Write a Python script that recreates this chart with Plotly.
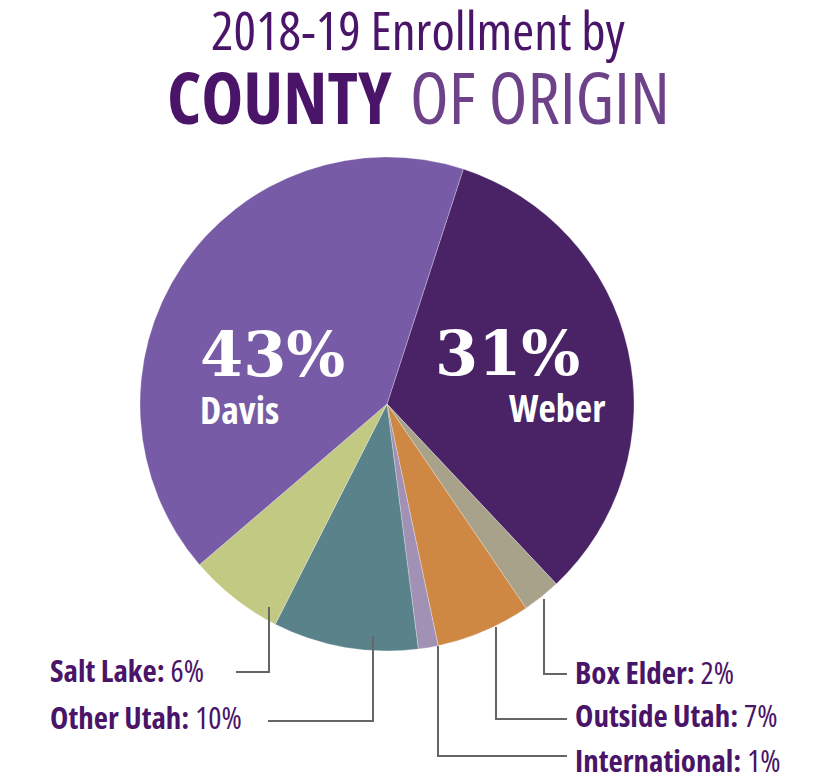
import plotly.graph_objects as go

# ---- data ----
counties = ["Weber", "Box Elder", "Outside Utah", "International", "Other Utah", "Salt Lake", "Davis"]
shown_pct = [31, 2, 7, 1, 10, 6, 43]                 # percentages printed on the chart
slice_share = [33.0, 2.5, 6.2, 1.3, 9.5, 6.25, 41.3]
colors = ["#4A2366", "#A8A28A", "#CE8843", "#A191B5", "#5A828A", "#C2C982", "#775BA6"]

W, H = 822, 784
OFF = 8  # page body margin in the browser
CX, CY, R = 387, 404, 247  # target position in window pixels


def px(x):
    return (x - OFF) / W


def py(y):
    return 1 - (y - OFF) / H


fig = go.Figure(go.Pie(
    labels=counties,
    values=slice_share,
    sort=False,
    direction="clockwise",
    rotation=18,
    marker=dict(colors=colors, line=dict(width=0.6, color="rgba(255,255,255,0.45)")),
    textinfo="none",
    hoverinfo="label",
    showlegend=False,
    domain=dict(x=[px(CX - R), px(CX + R)], y=[py(CY + R), py(CY - R)]),
))

SANS = "Open Sans"
DARK = "#4A1468"
LIGHT = "#6E4289"
LINE = "#666666"


def cond(s, extra=""):
    return "<span style='font-stretch:condensed%s'>%s</span>" % (extra, s)


ann = []
# Title
ann.append(dict(x=px(418), y=py(30), xref="paper", yref="paper", xanchor="center", yanchor="middle",
                text=cond("2018-19 Enrollment by"), showarrow=False,
                font=dict(family=SANS, size=53, color=DARK)))
ann.append(dict(x=px(418), y=py(96), xref="paper", yref="paper", xanchor="center", yanchor="middle",
                text=cond("<b>COUNTY</b>") + " " + cond("OF ORIGIN", ";color:" + LIGHT), showarrow=False,
                font=dict(family=SANS, size=71, color=DARK)))

# Inside labels
idx_d = counties.index("Davis")
idx_w = counties.index("Weber")
ann.append(dict(x=px(198), y=py(354), xref="paper", yref="paper", xanchor="left", yanchor="middle",
                text="<b>%d%%</b>" % shown_pct[idx_d], showarrow=False,
                font=dict(family="DejaVu Serif", size=62, color="white")))
ann.append(dict(x=px(198), y=py(409), xref="paper", yref="paper", xanchor="left", yanchor="middle",
                text=cond("<b>%s</b>" % counties[idx_d]), showarrow=False,
                font=dict(family=SANS, size=38, color="white")))
ann.append(dict(x=px(582), y=py(353), xref="paper", yref="paper", xanchor="right", yanchor="middle",
                text="<b>%d%%</b>" % shown_pct[idx_w], showarrow=False,
                font=dict(family="DejaVu Serif", size=62, color="white")))
ann.append(dict(x=px(607), y=py(407), xref="paper", yref="paper", xanchor="right", yanchor="middle",
                text=cond("<b>%s</b>" % counties[idx_w]), showarrow=False,
                font=dict(family=SANS, size=38, color="white")))

# Outside labels: (county, text x, text y, leader path points)
outside = [
    ("Box Elder", 573, 672, [(544, 599), (544, 674), (567, 674)]),
    ("Outside Utah", 573, 715, [(496, 627), (496, 719), (567, 719)]),
    ("International", 573, 760, [(438, 646), (438, 756), (567, 756)]),
    ("Salt Lake", 48, 670, [(236, 672), (269, 672), (269, 607)]),
    ("Other Utah", 48, 717, [(268, 721), (373, 721), (373, 636)]),
]
shapes = []
for name, tx, ty, pts in outside:
    i = counties.index(name)
    ann.append(dict(x=px(tx), y=py(ty), xref="paper", yref="paper", xanchor="left", yanchor="middle",
                    text=cond("<b>%s:</b> %d%%" % (name, shown_pct[i])), showarrow=False,
                    font=dict(family=SANS, size=31, color=DARK)))
    path = "M " + " L ".join("%f,%f" % (px(x), py(y)) for x, y in pts)
    shapes.append(dict(type="path", path=path, xref="paper", yref="paper",
                       line=dict(color=LINE, width=2)))

fig.update_layout(
    width=W, height=H,
    margin=dict(l=0, r=0, t=0, b=0),
    paper_bgcolor="white", plot_bgcolor="white",
    annotations=ann, shapes=shapes,
)

fig.write_html("out.html")
